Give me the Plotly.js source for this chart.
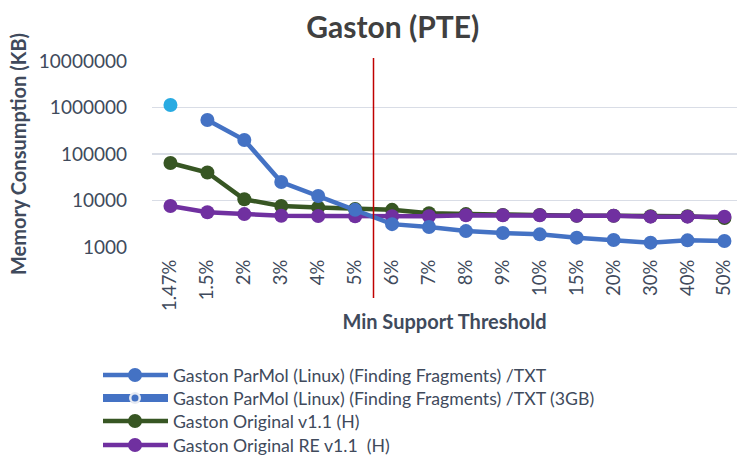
<!DOCTYPE html>
<html><head><meta charset="utf-8">
<script src="https://cdn.plot.ly/plotly-3.0.1.min.js"></script>
<style>body{margin:0;background:#fff}#c{width:737px;height:459px}</style>
</head><body><div id="c"></div>
<script>
const categories = ["1.47%","1.5%","2%","3%","4%","5%","6%","7%","8%","9%","10%","15%","20%","30%","40%","50%"];
const parmolTxt = [null,537000,200000,25000,12500,6300,3100,2700,2200,2000,1870,1590,1410,1240,1390,1350];
const parmol3GB = [1130000,null,null,null,null,null,null,null,null,null,null,null,null,null,null,null];
const gastonOrig = [64000,40000,10600,7600,7100,6600,6300,5300,5100,4900,4900,4700,4700,4600,4600,4200];
const gastonRE = [7600,5600,5100,4700,4650,4600,4600,4600,4800,4800,4800,4700,4700,4500,4500,4500];
const seriesNames = ["Gaston ParMol (Linux) (Finding Fragments) /TXT","Gaston ParMol (Linux) (Finding Fragments) /TXT (3GB)","Gaston Original v1.1 (H)","Gaston Original RE v1.1  (H)"];
const colors = ["#4472C4","#29ABE2","#375623","#7030A0"];
const FONT = "Lato, 'Open Sans', sans-serif";
const txtCol = "#404A5C";

const traces = [
  {x:categories,y:gastonOrig,name:seriesNames[2],mode:"lines+markers",line:{color:colors[2],width:4.5},marker:{size:14,color:colors[2]}},
  {x:categories,y:gastonRE,name:seriesNames[3],mode:"lines+markers",line:{color:colors[3],width:4.5},marker:{size:14,color:colors[3]}},
  {x:categories,y:parmolTxt,name:seriesNames[0],mode:"lines+markers",line:{color:colors[0],width:4.5},marker:{size:14,color:colors[0]}},
  {x:categories,y:parmol3GB,name:seriesNames[1],mode:"markers",marker:{size:14,color:colors[1]}}
];

function py(p){return (247-p)/186;}
function px(p){return (p-152)/585;}
const shapes = [
  {type:"line",xref:"paper",yref:"paper",x0:px(373.5),x1:px(373.5),y0:py(298),y1:py(58),line:{color:"#C00000",width:1.5}}
];
const annotations = [];
const legRows = [375,398,421,445];
const legCols = [colors[0],colors[0],colors[2],colors[3]];
legRows.forEach((r,i)=>{
  const thick = i===1;
  shapes.push({type:"line",xref:"paper",yref:"paper",x0:px(103),x1:px(168),y0:py(r),y1:py(r),line:{color:legCols[i],width:thick?8:4.5}});
  if(thick){
    shapes.push({type:"circle",xref:"paper",yref:"paper",xsizemode:"pixel",ysizemode:"pixel",xanchor:px(135),yanchor:py(r),x0:-6,x1:6,y0:-6,y1:6,fillcolor:"#E6EAF2",line:{width:0}});
    shapes.push({type:"circle",xref:"paper",yref:"paper",xsizemode:"pixel",ysizemode:"pixel",xanchor:px(135),yanchor:py(r),x0:-3.5,x1:3.5,y0:-3.5,y1:3.5,fillcolor:colors[0],line:{width:0}});
  } else {
    shapes.push({type:"circle",xref:"paper",yref:"paper",xsizemode:"pixel",ysizemode:"pixel",xanchor:px(135),yanchor:py(r),x0:-7,x1:7,y0:-7,y1:7,fillcolor:legCols[i],line:{width:0}});
  }
  annotations.push({xref:"paper",yref:"paper",x:px(171),y:py(r),xanchor:"left",yanchor:"middle",showarrow:false,text:seriesNames[i],font:{family:FONT,size:17.7,color:txtCol}});
});

const layout = {
  width:737,height:459,
  margin:{l:152,r:0,t:61,b:212},
  paper_bgcolor:"#fff",plot_bgcolor:"#fff",
  showlegend:false,
  title:{text:"<b>Gaston (PTE)</b>",x:0.533,xanchor:"center",y:0.94,yanchor:"middle",font:{family:FONT,size:30,color:"#404040"}},
  xaxis:{type:"category",range:[-0.5,15.34],tickangle:-90,showgrid:false,zeroline:false,showline:false,ticks:"",ticklabelstandoff:8,
    tickfont:{family:FONT,size:18.5,color:txtCol},
    title:{text:"<b>Min Support Threshold</b>",font:{family:FONT,size:20,color:txtCol},standoff:4}},
  yaxis:{type:"log",range:[3,7],tickvals:[1000,10000,100000,1000000,10000000],ticktext:["1000","10000","100000","1000000","10000000"],
    showgrid:true,gridcolor:"#D9DDE6",gridwidth:1.5,zeroline:false,showline:false,ticks:"",ticklabelstandoff:24,
    tickfont:{family:FONT,size:19,color:txtCol},
    title:{text:"<b>Memory Consumption (KB)</b>",font:{family:FONT,size:20,color:txtCol},standoff:6}},
  shapes:shapes,annotations:annotations
};
traces.forEach(t=>{t.cliponaxis=false;});
Plotly.newPlot("c",traces,layout,{staticPlot:true,displayModeBar:false});
</script></body></html>
